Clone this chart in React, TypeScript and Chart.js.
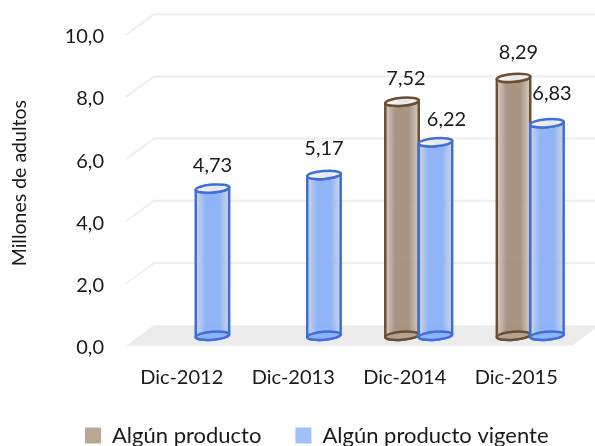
import React, { useEffect, useRef } from "react";
import { Chart, registerables } from "chart.js";

Chart.register(...registerables);

const categories = ["Dic-2012", "Dic-2013", "Dic-2014", "Dic-2015"];
const algunProducto = [null, null, 7.52, 8.29];
const algunProductoVigente = [4.73, 5.17, 6.22, 6.83];
const yTicks = [0, 2, 4, 6, 8, 10];
const axisTitle = "Millones de adultos";
const seriesNames = ["Algún producto", "Algún producto vigente"];

const FONT = "Lato, 'Open Sans', sans-serif";
const fmt = (v: number, d: number) => v.toFixed(d).replace(".", ",");

// 3D look: depth of the wall and the plane that the cylinders stand on
const WALL = { dx: 28, dy: -20.5 };
const BAR_PLANE = { dx: 14, dy: -10 };
const labelNudge: Record<string, [number, number]> = {
  "0-2": [4, 0],
  "0-3": [5, -2],
  "1-1": [0, -3],
  "1-2": [11, 0],
  "1-3": [5, -7],
};

const styles = [
  { stroke: "#6b4e33", edge: "rgba(205,196,186,0.85)", mid: "rgba(160,140,120,0.92)", bottom: "rgba(180,165,150,0.9)" },
  { stroke: "#3f6fd6", edge: "rgba(196,207,224,0.85)", mid: "rgba(138,176,247,0.95)", bottom: "rgba(140,178,248,0.9)" },
];

function cylinder(ctx: CanvasRenderingContext2D, x: number, top: number, base: number, w: number, s: typeof styles[0]) {
  const rx = w / 2;
  const ry = 4;
  const tilt = -0.08;
  const L = x - rx;
  const R = x + rx;
  const g = ctx.createLinearGradient(L, 0, R, 0);
  g.addColorStop(0, s.edge);
  g.addColorStop(0.3, s.mid);
  g.addColorStop(0.7, s.mid);
  g.addColorStop(1, s.edge);
  const tiltY = rx * Math.sin(tilt);
  ctx.save();
  ctx.lineWidth = 2.5;
  ctx.strokeStyle = s.stroke;
  // body
  ctx.beginPath();
  ctx.moveTo(L, top - tiltY);
  ctx.lineTo(L, base - tiltY);
  ctx.ellipse(x, base, rx, ry, tilt, Math.PI, 0, true);
  ctx.lineTo(R, top + tiltY);
  ctx.ellipse(x, top, rx, ry, tilt, 0, Math.PI, false);
  ctx.closePath();
  ctx.fillStyle = g;
  ctx.fill();
  ctx.stroke();
  // base ring
  ctx.beginPath();
  ctx.ellipse(x, base, rx, ry, tilt, 0, Math.PI * 2);
  ctx.fillStyle = s.bottom;
  ctx.fill();
  ctx.stroke();
  // open top
  const t = ctx.createLinearGradient(L, 0, R, 0);
  t.addColorStop(0, "#f7f7f7");
  t.addColorStop(0.6, "#e6e7ee");
  t.addColorStop(1, "#f4f4f6");
  ctx.beginPath();
  ctx.ellipse(x, top, rx, ry, tilt, 0, Math.PI * 2);
  ctx.fillStyle = t;
  ctx.fill();
  ctx.stroke();
  ctx.restore();
}

const scenePlugin = {
  id: "scene",
  beforeDatasetsDraw(chart: any) {
    const { ctx, scales, chartArea } = chart;
    const y = scales.y;
    const L = chartArea.left;
    const R = chartArea.right;
    const y0 = y.getPixelForValue(0);
    ctx.save();
    ctx.fillStyle = "#ebebeb";
    ctx.beginPath();
    ctx.moveTo(L, y0);
    ctx.lineTo(R, y0);
    ctx.lineTo(R + WALL.dx, y0 + WALL.dy);
    ctx.lineTo(L + WALL.dx, y0 + WALL.dy);
    ctx.closePath();
    ctx.fill();
    ctx.strokeStyle = "#eeeeee";
    ctx.lineWidth = 2;
    yTicks.slice(1).forEach((t) => {
      const p = y.getPixelForValue(t);
      ctx.beginPath();
      ctx.moveTo(L, p);
      ctx.lineTo(L + WALL.dx, p + WALL.dy);
      ctx.lineTo(R + WALL.dx, p + WALL.dy);
      ctx.stroke();
    });
    ctx.restore();
    // the second series stands in front of the first one
    chart.data.datasets.forEach((ds: any, di: number) => {
      chart.getDatasetMeta(di).data.forEach((el: any, i: number) => {
        if (ds.data[i] == null) return;
        const p = el.getProps(["x", "y", "base", "width"], true);
        cylinder(ctx, p.x + BAR_PLANE.dx, p.y + BAR_PLANE.dy, p.base + BAR_PLANE.dy, p.width, styles[di]);
      });
    });
  },
  beforeDatasetDraw() {
    return false;
  },
  afterDatasetsDraw(chart: any) {
    const { ctx } = chart;
    ctx.save();
    ctx.font = `20px ${FONT}`;
    ctx.fillStyle = "#1a1a1a";
    ctx.textAlign = "center";
    ctx.textBaseline = "middle";
    chart.data.datasets.forEach((ds: any, di: number) => {
      chart.getDatasetMeta(di).data.forEach((el: any, i: number) => {
        const v = ds.data[i];
        if (v == null) return;
        const p = el.getProps(["x", "y"], true);
        const [nx, ny] = labelNudge[`${di}-${i}`] || [0, 0];
        ctx.fillText(fmt(v, 2), p.x + BAR_PLANE.dx + nx, p.y + BAR_PLANE.dy - 23 + ny);
      });
    });
    ctx.restore();
  },
};

export default function App() {
  const ref = useRef<HTMLCanvasElement>(null);
  useEffect(() => {
    const chart = new Chart(ref.current!, {
      type: "bar",
      data: {
        labels: categories,
        datasets: [
          { label: seriesNames[0], data: algunProducto, backgroundColor: "#b9a993" },
          { label: seriesNames[1], data: algunProductoVigente, backgroundColor: "#a0c0fa" },
        ],
      },
      plugins: [scenePlugin],
      options: {
        responsive: false,
        animation: false,
        layout: { padding: { top: 20.7, left: 51, right: 5, bottom: 0 } },
        datasets: { bar: { categoryPercentage: 0.6, barPercentage: 1 } },
        scales: {
          x: {
            grid: { display: false },
            border: { display: false },
            ticks: { font: { family: FONT, size: 20 }, color: "#1a1a1a", padding: 12, maxRotation: 0, autoSkip: false },
            afterFit: (s: any) => { s.height = 44.8; s.paddingRight = 23; s.paddingLeft = 0; },
          },
          y: {
            min: 0,
            max: 10.45,
            grid: { display: false },
            border: { display: false },
            afterFit: (s: any) => { s.width = 75; s.paddingTop = 0; s.paddingBottom = 0; },
            title: {
              display: true,
              text: axisTitle,
              font: { family: FONT, size: 19.5 },
              color: "#1a1a1a",
              padding: { top: -43.4, bottom: 0 },
            },
            ticks: {
              stepSize: 2,
              includeBounds: false,
              labelOffset: 2,
              padding: 14,
              font: { family: FONT, size: 20 },
              color: "#1a1a1a",
              callback: (v: any) => fmt(Number(v), 1),
            },
          },
        },
        plugins: {
          tooltip: { enabled: false },
          legend: {
            position: "bottom",
            align: "start",
            maxHeight: 55.5,
            labels: {
              boxWidth: 16,
              boxHeight: 16,
              padding: 34,
              font: { family: FONT, size: 22 },
              color: "#1a1a1a",
            },
          },
        },
      } as any,
    });
    return () => chart.destroy();
  }, []);
  return (
    <div style={{ position: "fixed", left: 0, top: 0, width: 595, height: 446, background: "#fff" }}>
      <canvas ref={ref} width={595} height={446} style={{ display: "block" }} />
    </div>
  );
}
